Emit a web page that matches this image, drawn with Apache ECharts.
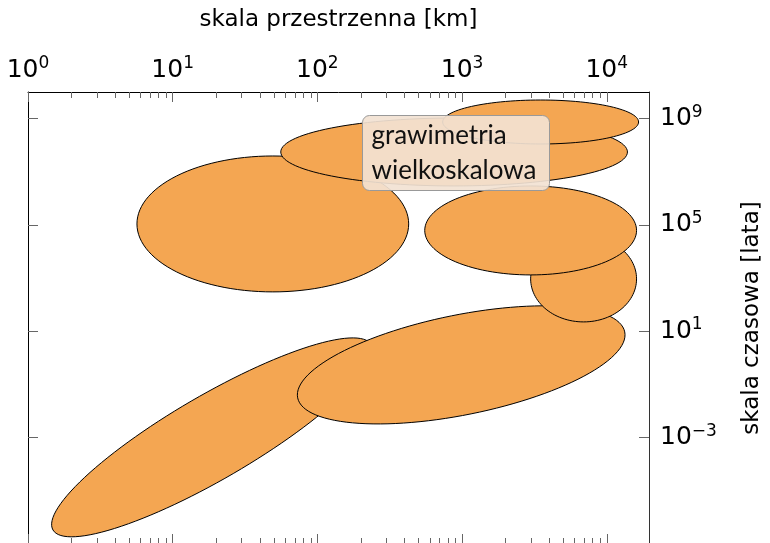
<!DOCTYPE html>
<html>
<head>
<meta charset="utf-8">
<script src="https://cdn.jsdelivr.net/npm/echarts@6/dist/echarts.min.js"></script>
<style>
  html, body { margin: 0; padding: 0; background: #fff; }
  #chart { width: 770px; height: 543px; }
</style>
</head>
<body>
<div id="chart"></div>
<script>
// all positions are in log10 space (exponents)
const xRange = [0, 4.292];          // 10^0 .. ~2*10^4 km
const yRange = [-7, 10];            // 10^-7 .. 10^10 lat
const xTickExp = [0, 1, 2, 3, 4];
const yTickExp = [-3, 1, 5, 9];

// ellipses, drawn in this order (later ones on top)
const ellipseCenterX = [1.273, 2.994, 3.840, 3.474, 1.692, 2.945, 3.543];
const ellipseCenterY = [-2.989, -0.263, 2.970, 4.793, 5.038, 7.744, 8.872];
const ellipseHalfX = [1.273, 1.153, 0.366, 0.732, 0.939, 1.198, 0.677]; // decades
const ellipseHalfY = [1.575, 1.880, 1.617, 1.673, 2.556, 1.278, 0.827]; // decades
const ellipseTilt = [30.2, 11.4, 0, 0, 0, 0, 0]; // degrees

const boxText = 'grawimetria\nwielkoskalowa';

const font = 'DejaVu Sans';
const fill = '#F4A652';
const tickColor = '#666';

// minor ticks at 2..9 * 10^d
const xMinor = [];
for (let d = 0; d <= 4; d++) {
  for (let k = 2; k <= 9; k++) {
    const v = d + Math.log10(k);
    if (v < xRange[1]) xMinor.push(v);
  }
}

const expLabel = (v) => '{b|10}{s|' + (v < 0 ? '\u2212' + (-v) : v) + '}';
const labelRich = {
  b: { fontSize: 25, fontFamily: font, color: '#000', lineHeight: 30 },
  s: { fontSize: 17, fontFamily: font, color: '#000', lineHeight: 17, verticalAlign: 'top' }
};

function xAx(pos, ticks, len, withLabel, withLine) {
  return {
    type: 'value', position: pos, min: xRange[0], max: xRange[1],
    axisLine: { show: withLine, onZero: false, lineStyle: { color: '#000', width: 1 } },
    axisTick: { show: true, inside: true, length: len, customValues: ticks,
      lineStyle: { color: tickColor, width: 1 } },
    axisLabel: withLabel ? { show: true, customValues: xTickExp, margin: 7,
      formatter: expLabel, rich: labelRich } : { show: false },
    splitLine: { show: false }
  };
}

const chart = echarts.init(document.getElementById('chart'));

const data = ellipseCenterX.map((x, i) =>
  [x, ellipseCenterY[i], ellipseHalfX[i], ellipseHalfY[i], ellipseTilt[i]]);

const option = {
  animation: false,
  grid: { left: 28, top: 92, width: 621, height: 452, outerBoundsMode: 'none' },
  xAxis: [
    Object.assign(xAx('top', xTickExp, 10, true, true), {
      name: 'skala przestrzenna [km]', nameLocation: 'middle', nameGap: 60,
      nameMoveOverlap: false,
      nameTextStyle: { fontSize: 23, fontFamily: font, color: '#000' }
    }),
    xAx('top', xMinor, 6, false, false),
    xAx('bottom', xTickExp, 10, false, true),
    xAx('bottom', xMinor, 6, false, false)
  ],
  yAxis: [
    {
      type: 'value', position: 'right', min: yRange[0], max: yRange[1],
      name: 'skala czasowa [lata]', nameLocation: 'middle', nameGap: 92, nameRotate: 90,
      nameMoveOverlap: false,
      nameTextStyle: { fontSize: 23, fontFamily: font, color: '#000' },
      axisLine: { show: true, onZero: false, lineStyle: { color: '#333', width: 1 } },
      axisTick: { show: true, inside: true, length: 10, customValues: yTickExp,
        lineStyle: { color: tickColor, width: 1 } },
      axisLabel: { show: true, customValues: yTickExp, margin: 11, align: 'left',
        formatter: expLabel, rich: labelRich },
      splitLine: { show: false }
    },
    {
      type: 'value', position: 'left', min: yRange[0], max: yRange[1],
      axisLine: { show: true, onZero: false, lineStyle: { color: '#000', width: 1 } },
      axisTick: { show: true, inside: true, length: 10, customValues: yTickExp,
        lineStyle: { color: tickColor, width: 1 } },
      axisLabel: { show: false },
      splitLine: { show: false }
    }
  ],
  series: [{
    type: 'custom',
    xAxisIndex: 0,
    yAxisIndex: 0,
    clip: true,
    encode: { x: 0, y: 1 },
    data: data,
    renderItem: function (params, api) {
      const c = api.coord([api.value(0), api.value(1)]);
      const A = api.size([api.value(2), 0])[0];
      const B = api.size([0, api.value(3)])[1];
      const t = api.value(4) * Math.PI / 180;
      const pts = [];
      for (let i = 0; i < 120; i++) {
        const f = 2 * Math.PI * i / 120;
        const ex = A * Math.cos(f), ey = B * Math.sin(f);
        pts.push([c[0] + ex * Math.cos(t) + ey * Math.sin(t),
                  c[1] - ex * Math.sin(t) + ey * Math.cos(t)]);
      }
      return {
        type: 'polygon',
        shape: { points: pts },
        style: { fill: fill, stroke: '#000', lineWidth: 1 }
      };
    }
  }],
  graphic: [{
    type: 'group', left: 362, top: 115, z: 100, zlevel: 1,
    children: [
      { type: 'rect', z: 100, zlevel: 1, shape: { x: 0, y: 0, width: 187, height: 75, r: 7 },
        style: { fill: 'rgba(242,226,211,0.92)', stroke: '#999', lineWidth: 1 } },
      { type: 'text', z: 101, zlevel: 1, x: 9, y: 3,
        style: { text: boxText, font: '26px Lato', fill: '#111', lineHeight: 35 } }
    ]
  }]
};

chart.setOption(option);
</script>
</body>
</html>
